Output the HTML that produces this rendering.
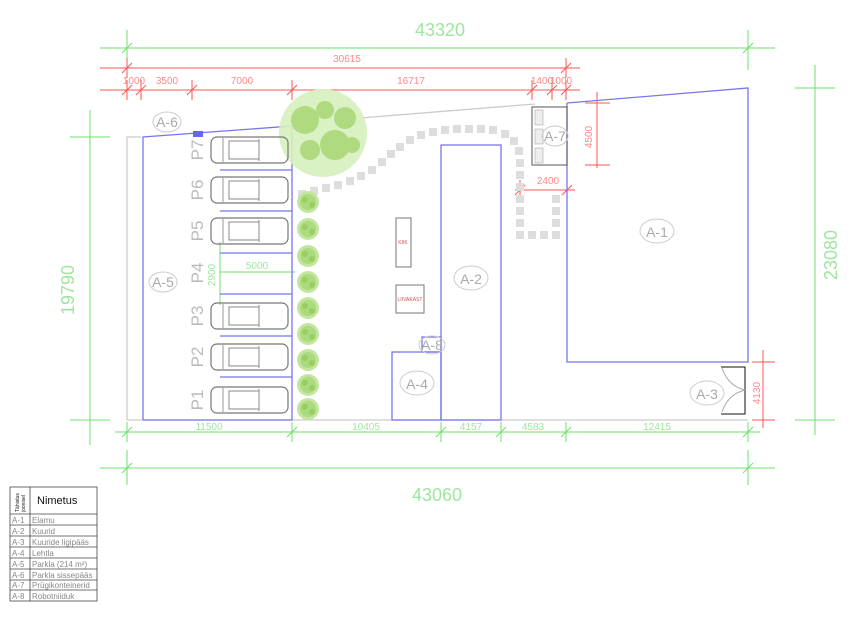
<!DOCTYPE html><html><head><style>body{margin:0;background:#fff}svg{display:block}text{font-family:"Liberation Sans",sans-serif}</style></head><body>
<svg width="853" height="618" viewBox="0 0 853 618" xmlns="http://www.w3.org/2000/svg">
<defs>
<g id="car"><rect x="0" y="-13" width="77" height="26" rx="6" fill="none" stroke="#777" stroke-width="1.2"/><rect x="18" y="-9" width="30" height="18" fill="none" stroke="#888"/><line x1="48" y1="-11" x2="48" y2="11" stroke="#888"/><line x1="12" y1="-12" x2="12" y2="12" stroke="#999"/></g>
<g id="shrub"><circle r="11" fill="#c3e69f"/><circle r="8" fill="#a3d472" opacity=".7"/><circle cx="-3" cy="-2" r="3" fill="#8cc84b" opacity=".6"/><circle cx="4" cy="3" r="3" fill="#8cc84b" opacity=".6"/></g>
<g id="tk"><line x1="-5" y1="5" x2="5" y2="-5"/><line x1="0" y1="-10" x2="0" y2="10"/></g>
</defs>
<g stroke="#6ee06e" fill="none" stroke-width="1">
<line x1="100" y1="48" x2="775" y2="48"/><use href="#tk" x="127" y="48"/><use href="#tk" x="748" y="48"/>
<line x1="127" y1="30" x2="127" y2="70"/><line x1="748" y1="30" x2="748" y2="70"/>
<line x1="100" y1="468" x2="775" y2="468"/><use href="#tk" x="127" y="468"/><use href="#tk" x="748" y="468"/>
<line x1="127" y1="450" x2="127" y2="485"/><line x1="748" y1="450" x2="748" y2="485"/>
<line x1="115" y1="432" x2="760" y2="432"/>
<use href="#tk" x="127" y="432"/><use href="#tk" x="292" y="432"/><use href="#tk" x="441" y="432"/><use href="#tk" x="501" y="432"/><use href="#tk" x="566" y="432"/><use href="#tk" x="748" y="432"/>
<line x1="90" y1="110" x2="90" y2="445"/><line x1="70" y1="137" x2="110" y2="137"/><line x1="70" y1="420" x2="110" y2="420"/>
<line x1="815" y1="65" x2="815" y2="435"/><line x1="795" y1="88" x2="835" y2="88"/><line x1="795" y1="420" x2="835" y2="420"/>
<line x1="220" y1="242" x2="220" y2="305"/><line x1="220" y1="272" x2="295" y2="272"/><line x1="292" y1="262" x2="292" y2="282"/>
</g>
<g fill="#9de69d" font-size="18" text-anchor="middle"><text x="440" y="36">43320</text><text x="437" y="501">43060</text>
<text transform="translate(74,290) rotate(-90)">19790</text><text transform="translate(837,255) rotate(-90)">23080</text></g>
<g fill="#9de69d" font-size="10" text-anchor="middle"><text x="209" y="430">11500</text><text x="366" y="430">10405</text><text x="471" y="430">4157</text><text x="533" y="430">4583</text><text x="657" y="430">12415</text><text x="257" y="269">5000</text><text transform="translate(215,275) rotate(-90)">2900</text></g>
<g stroke="#f55" fill="none">
<line x1="100" y1="68" x2="580" y2="68"/><use href="#tk" x="127" y="68"/><use href="#tk" x="566" y="68"/>
<line x1="100" y1="90" x2="580" y2="90"/>
<use href="#tk" x="127" y="90"/><use href="#tk" x="141" y="90"/><use href="#tk" x="192" y="90"/><use href="#tk" x="292" y="90"/><use href="#tk" x="532" y="90"/><use href="#tk" x="552" y="90"/><use href="#tk" x="566" y="90"/>
<line x1="597" y1="92" x2="597" y2="168"/><line x1="585" y1="103" x2="610" y2="103"/><line x1="585" y1="165" x2="610" y2="165"/>
<line x1="515" y1="190" x2="575" y2="190"/><use href="#tk" x="520" y="190"/><use href="#tk" x="567" y="190"/>
<line x1="763" y1="350" x2="763" y2="428"/><line x1="752" y1="362" x2="775" y2="362"/><line x1="752" y1="420" x2="775" y2="420"/>
</g>
<g fill="#f88" font-size="10" text-anchor="middle"><text x="347" y="62">30615</text><text x="134" y="84">1000</text><text x="167" y="84">3500</text><text x="242" y="84">7000</text><text x="411" y="84">16717</text><text x="542" y="84">1400</text><text x="561" y="84">1000</text><text x="548" y="184">2400</text>
<text transform="translate(592,137) rotate(-90)">4500</text><text transform="translate(760,393) rotate(-90)">4130</text></g>
<g fill="none" stroke="#ccc" stroke-width="1.3"><polyline points="127,420 127,137 141,137"/><line x1="360" y1="118" x2="535" y2="104"/><line x1="127" y1="420" x2="748" y2="420"/></g>
<g fill="none" stroke="#7777ee" stroke-width="1.3">
<polyline points="567,103 748,88 748,362 567,362 567,103"/>
<polyline points="143,420 143,137 292,126 292,420 143,420"/>
<rect x="441" y="145" width="60" height="275"/><rect x="392" y="352" width="49" height="68"/><rect x="422" y="337" width="19" height="15"/>
<line x1="220" y1="211" x2="292" y2="211"/><line x1="220" y1="253" x2="292" y2="253"/><line x1="220" y1="294" x2="292" y2="294"/><line x1="220" y1="336" x2="292" y2="336"/><line x1="220" y1="377" x2="292" y2="377"/><line x1="220" y1="170" x2="292" y2="170"/>
</g>
<rect x="193" y="131" width="10" height="6" fill="#6666ee"/>
<g fill="none" stroke="#777"><rect x="396" y="218" width="15" height="49"/><rect x="396" y="285" width="28" height="28"/><rect x="532" y="107" width="35" height="58" stroke="#555"/></g>
<g fill="#c55" font-size="5" text-anchor="middle"><text x="403" y="244">KIIK</text><text x="410" y="301">LIIVAKAST</text></g>
<g fill="#eee" stroke="#999" stroke-width=".5"><rect x="535" y="110" width="8" height="15"/><rect x="535" y="129" width="8" height="15"/><rect x="535" y="148" width="8" height="15"/></g>
<g stroke="#111" fill="none"><polyline points="721,367 745,367 745,414 721,414"/></g>
<g stroke="#aaa" fill="none"><path d="M722,368 Q728,386 745,390 Q728,394 722,412"/></g>
<g fill="#ddd">
<rect x="298" y="190" width="8" height="8"/><rect x="310" y="187" width="8" height="8"/><rect x="322" y="184" width="8" height="8"/><rect x="334" y="181" width="8" height="8"/><rect x="346" y="177" width="8" height="8"/><rect x="357" y="172" width="8" height="8"/><rect x="368" y="166" width="8" height="8"/><rect x="378" y="158" width="8" height="8"/><rect x="387" y="150" width="8" height="8"/><rect x="396" y="143" width="8" height="8"/><rect x="406" y="136" width="8" height="8"/><rect x="417" y="131" width="8" height="8"/><rect x="429" y="128" width="8" height="8"/><rect x="441" y="126" width="8" height="8"/><rect x="453" y="125" width="8" height="8"/><rect x="465" y="125" width="8" height="8"/><rect x="477" y="125" width="8" height="8"/><rect x="489" y="126" width="8" height="8"/><rect x="501" y="130" width="8" height="8"/><rect x="510" y="137" width="8" height="8"/><rect x="515" y="147" width="8" height="8"/><rect x="516" y="159" width="8" height="8"/><rect x="516" y="171" width="8" height="8"/><rect x="516" y="183" width="8" height="8"/><rect x="516" y="195" width="8" height="8"/><rect x="516" y="207" width="8" height="8"/><rect x="516" y="219" width="8" height="8"/><rect x="516" y="231" width="8" height="8"/><rect x="528" y="231" width="8" height="8"/><rect x="540" y="231" width="8" height="8"/><rect x="552" y="231" width="8" height="8"/><rect x="552" y="219" width="8" height="8"/><rect x="552" y="207" width="8" height="8"/><rect x="552" y="195" width="8" height="8"/>
</g>
<circle cx="323" cy="133" r="44" fill="#d6efbd" opacity=".9"/>
<g fill="#8cc84b" opacity=".55"><circle cx="305" cy="120" r="14"/><circle cx="335" cy="145" r="15"/><circle cx="345" cy="118" r="11"/><circle cx="310" cy="150" r="10"/><circle cx="325" cy="110" r="9"/><circle cx="352" cy="145" r="8"/></g>
<g><use href="#shrub" x="308" y="202"/><use href="#shrub" x="308" y="229"/><use href="#shrub" x="308" y="256"/><use href="#shrub" x="308" y="282"/><use href="#shrub" x="308" y="308"/><use href="#shrub" x="308" y="334"/><use href="#shrub" x="308" y="360"/><use href="#shrub" x="308" y="385"/><use href="#shrub" x="308" y="409"/></g>
<g><use href="#car" x="211" y="150"/><use href="#car" x="211" y="190"/><use href="#car" x="211" y="231"/><use href="#car" x="211" y="316"/><use href="#car" x="211" y="357"/><use href="#car" x="211" y="400"/></g>
<g fill="#bbb" font-size="17" text-anchor="middle"><text transform="translate(203,150) rotate(-90)">P7</text><text transform="translate(203,190) rotate(-90)">P6</text><text transform="translate(203,231) rotate(-90)">P5</text><text transform="translate(203,273) rotate(-90)">P4</text><text transform="translate(203,316) rotate(-90)">P3</text><text transform="translate(203,357) rotate(-90)">P2</text><text transform="translate(203,400) rotate(-90)">P1</text></g>
<g fill="none" stroke="#ccc"><ellipse cx="167" cy="122" rx="14" ry="10"/><ellipse cx="163" cy="282" rx="14" ry="10"/><ellipse cx="555" cy="136" rx="13" ry="10"/><ellipse cx="657" cy="231" rx="17" ry="12"/><ellipse cx="471" cy="278" rx="17" ry="12"/><ellipse cx="432" cy="345" rx="13" ry="9"/><ellipse cx="417" cy="383" rx="17" ry="12"/><ellipse cx="707" cy="393" rx="17" ry="12"/></g>
<g fill="#aaa" font-size="14" text-anchor="middle"><text x="167" y="127">A-6</text><text x="163" y="287">A-5</text><text x="555" y="141">A-7</text><text x="657" y="237">A-1</text><text x="471" y="284">A-2</text><text x="432" y="350">A-8</text><text x="417" y="389">A-4</text><text x="707" y="399">A-3</text></g>
<g fill="none" stroke="#444" stroke-width=".8"><rect x="10" y="487" width="87" height="114"/><line x1="30" y1="487" x2="30" y2="601"/>
<line x1="10" y1="514" x2="97" y2="514"/><line x1="10" y1="525" x2="97" y2="525"/><line x1="10" y1="536" x2="97" y2="536"/><line x1="10" y1="547" x2="97" y2="547"/><line x1="10" y1="558" x2="97" y2="558"/><line x1="10" y1="569" x2="97" y2="569"/><line x1="10" y1="580" x2="97" y2="580"/><line x1="10" y1="590" x2="97" y2="590"/></g>
<text x="37" y="504" font-size="11" fill="#111">Nimetus</text>
<text transform="translate(19,512) rotate(-90)" font-size="5" fill="#111">Tähistus</text><text transform="translate(25,512) rotate(-90)" font-size="5" fill="#111">joonisel</text>
<g font-size="8" fill="#888"><text x="12" y="523">A-1</text><text x="12" y="534">A-2</text><text x="12" y="545">A-3</text><text x="12" y="556">A-4</text><text x="12" y="567">A-5</text><text x="12" y="578">A-6</text><text x="12" y="588">A-7</text><text x="12" y="599">A-8</text>
<text x="32" y="523">Elamu</text><text x="32" y="534">Kuurid</text><text x="32" y="545">Kuuride ligipääs</text><text x="32" y="556">Lehtla</text><text x="32" y="567">Parkla (214 m²)</text><text x="32" y="578">Parkla sissepääs</text><text x="32" y="588">Prügikonteinerid</text><text x="32" y="599">Robotniiduk</text></g>
</svg></body></html>
